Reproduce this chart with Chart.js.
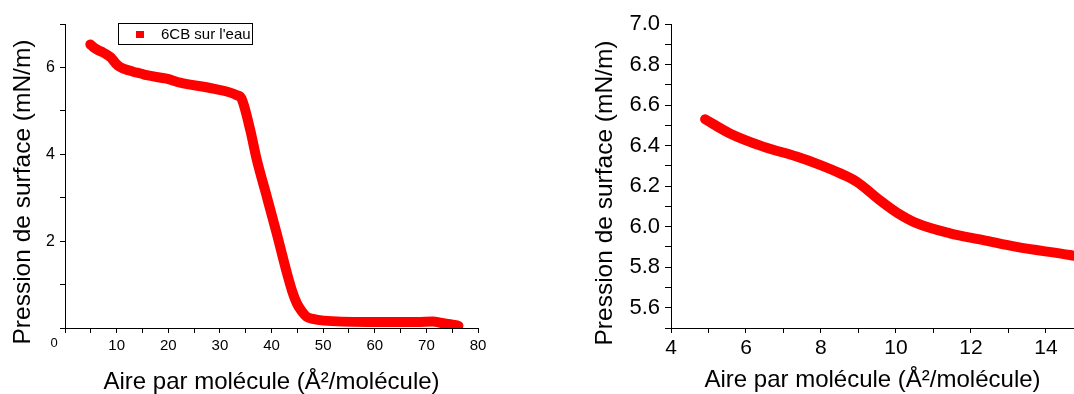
<!DOCTYPE html>
<html>
<head>
<meta charset="utf-8">
<script src="https://cdn.jsdelivr.net/npm/chart.js@4/dist/chart.umd.min.js"></script>
<style>
  body { margin: 0; background: #fff; width: 1074px; height: 394px; overflow: hidden; position: relative; }
  canvas { position: absolute; top: 0; }
  #leftChart { left: 0; }
  #rightChart { left: 560px; }
</style>
</head>
<body>
<canvas id="leftChart" width="500" height="394"></canvas>
<canvas id="rightChart" width="514" height="394"></canvas>
<script>
// isotherme 6CB sur l'eau
const seriesName = "6CB sur l'eau";
const areaValues = [4.91, 5.57, 6.46, 7.35, 7.97, 8.5, 8.95, 9.57, 10.02, 10.55, 11.44, 12.33, 13.22, 14.64,
    15.8, 19.7, 22.3, 28.7, 33.3, 34.2, 35.9, 37.1, 39.1, 41.0, 43.0, 44.0, 44.9, 45.9, 46.8, 48.0, 50.1,
    58.5, 68.2, 71.3, 72.7, 74.6, 76.2];
const pressureValues = [6.53, 6.46, 6.395, 6.346, 6.305, 6.264, 6.222, 6.13, 6.07, 6.017, 5.967, 5.934, 5.90, 5.86,
    5.82, 5.74, 5.65, 5.51, 5.36, 5.28, 4.55, 3.9, 3.02, 2.18, 1.26, 0.85, 0.57, 0.38, 0.26, 0.21, 0.17,
    0.14, 0.14, 0.15, 0.12, 0.09, 0.05];

const leftXLabels = [10, 20, 30, 40, 50, 60, 70, 80];
const leftYLabels = [2, 4, 6];
const rightXLabels = [4, 6, 8, 10, 12, 14];
const rightYLabels = [5.6, 5.8, 6.0, 6.2, 6.4, 6.6, 6.8, 7.0];

const xTitle = "Aire par molécule (Å²/molécule)";
const yTitle = "Pression de surface (mN/m)";

const fontFamily = "'Liberation Sans', Arial, sans-serif";

function points() {
    return areaValues.map((x, i) => ({ x: x, y: pressureValues[i] }));
}

function labelFrom(list, digits) {
    return function (value) {
        const hit = list.find(v => Math.abs(v - value) < 1e-6);
        return hit === undefined ? '' : hit.toFixed(digits);
    };
}

// rotated y title, drawn where the original sits (not centred on the axis)
const yTitlePlugin = {
    id: 'yTitle',
    afterDraw(chart, args, opts) {
        const ctx = chart.ctx;
        ctx.save();
        ctx.translate(opts.x, opts.y);
        ctx.rotate(-Math.PI / 2);
        ctx.font = opts.size + 'px ' + fontFamily;
        ctx.fillStyle = '#000';
        ctx.textAlign = 'center';
        ctx.textBaseline = 'middle';
        ctx.fillText(opts.text, 0, 0);
        ctx.restore();
    }
};

// boxed legend + the lone "0" at the corner
const boxLegendPlugin = {
    id: 'boxLegend',
    afterDraw(chart, args, opts) {
        const ctx = chart.ctx;
        const ds = chart.data.datasets[0];
        ctx.save();
        ctx.strokeStyle = '#000';
        ctx.lineWidth = 1;
        ctx.strokeRect(opts.left + 0.5, opts.top + 0.5, opts.width, opts.height);
        ctx.fillStyle = ds.borderColor;
        ctx.fillRect(opts.left + 18, opts.top + 8, 8, 7);
        ctx.fillStyle = '#000';
        ctx.font = '15px ' + fontFamily;
        ctx.textBaseline = 'middle';
        ctx.fillText(ds.label, opts.left + 43, opts.top + 12);

        const xs = chart.scales.x, ys = chart.scales.y;
        ctx.font = '13px ' + fontFamily;
        ctx.textAlign = 'center';
        ctx.fillText('0', xs.getPixelForValue(0) - 11, ys.getPixelForValue(0) + 15);
        ctx.restore();
    }
};

function axisGrid(len) {
    return { display: true, drawOnChartArea: false, drawTicks: true, tickLength: len, color: '#000', lineWidth: 1 };
}

function makeChart(id, cfg) {
    return new Chart(document.getElementById(id), {
        type: 'line',
        data: {
            datasets: [{
                label: seriesName,
                data: points(),
                borderColor: 'rgb(255, 0, 0)',
                backgroundColor: 'rgb(255, 0, 0)',
                borderWidth: 10,
                borderCapStyle: 'round',
                borderJoinStyle: 'round',
                pointRadius: 0,
                cubicInterpolationMode: 'monotone'
            }]
        },
        plugins: cfg.plugins,
        options: {
            responsive: false,
            maintainAspectRatio: false,
            animation: false,
            layout: { padding: cfg.padding },
            plugins: Object.assign({ legend: { display: false }, tooltip: { enabled: false } }, cfg.pluginOpts),
            scales: {
                x: {
                    type: 'linear',
                    min: cfg.xMin, max: cfg.xMax,
                    afterFit: s => { s.height = 66; },
                    grid: axisGrid(5),
                    border: { display: true, color: '#000', width: 1 },
                    ticks: {
                        stepSize: cfg.xStep, includeBounds: false, autoSkip: false, maxRotation: 0,
                        padding: cfg.xPad, color: '#000',
                        font: { family: fontFamily, size: cfg.xFont },
                        callback: labelFrom(cfg.xLabels, 0)
                    },
                    title: {
                        display: true, text: xTitle, color: '#000',
                        font: { family: fontFamily, size: 24, lineHeight: 1 },
                        padding: { top: 0, bottom: cfg.xTitlePad }
                    }
                },
                y: {
                    type: 'linear',
                    min: cfg.yMin, max: cfg.yMax,
                    afterFit: s => { s.width = cfg.yWidth; },
                    grid: axisGrid(cfg.yTick),
                    border: { display: true, color: '#000', width: 1 },
                    ticks: {
                        stepSize: cfg.yStep, includeBounds: false, autoSkip: false,
                        padding: cfg.yPad, color: '#000',
                        font: { family: fontFamily, size: cfg.yFont },
                        callback: labelFrom(cfg.yLabels, cfg.yDigits)
                    }
                }
            }
        }
    });
}

makeChart('leftChart', {
    padding: { top: 24, right: 22, left: 0, bottom: 0 },
    xMin: 0, xMax: 80, xStep: 5, xLabels: leftXLabels, xFont: 15, xPad: 4, xTitlePad: 0,
    yMin: 0, yMax: 7, yStep: 1, yLabels: leftYLabels, yDigits: 0, yFont: 16, yPad: 5, yTick: 5, yWidth: 65,
    plugins: [yTitlePlugin, boxLegendPlugin],
    pluginOpts: {
        yTitle: { text: yTitle, x: 23, y: 192, size: 24.5 },
        boxLegend: { left: 118, top: 23, width: 134, height: 21 }
    }
});

makeChart('rightChart', {
    padding: { top: 24, right: 0, left: 0, bottom: 0 },
    xMin: 4, xMax: 14.75, xStep: 1, xLabels: rightXLabels, xFont: 21, xPad: 3, xTitlePad: 2,
    yMin: 5.5, yMax: 7.0, yStep: 0.1, yLabels: rightYLabels, yDigits: 1, yFont: 22, yPad: 5, yTick: 6, yWidth: 111,
    plugins: [yTitlePlugin],
    pluginOpts: {
        yTitle: { text: yTitle, x: 45, y: 193, size: 24.5 }
    }
});
</script>
</body>
</html>
